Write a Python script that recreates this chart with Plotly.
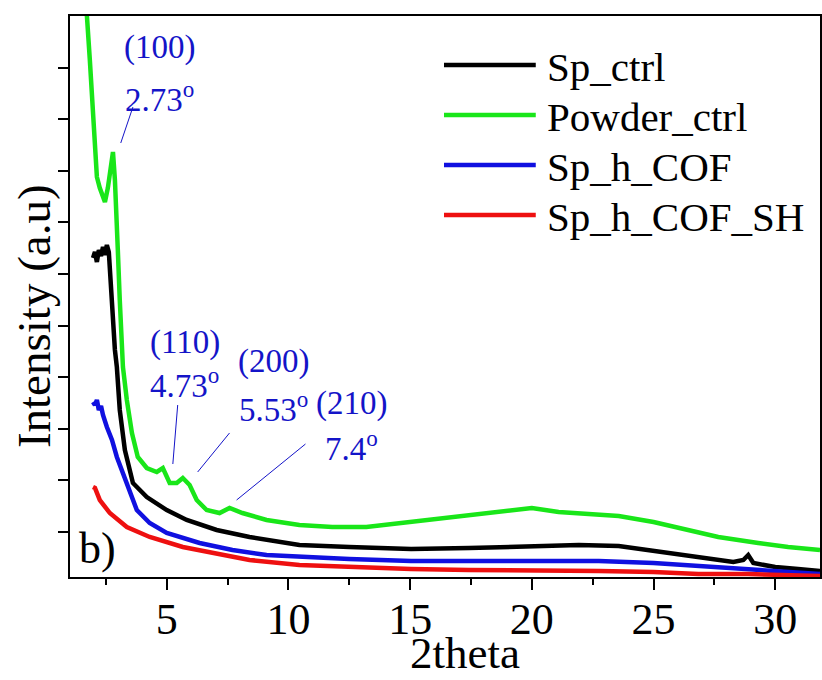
import plotly.graph_objects as go

# ---------------- data ----------------
x_sp_ctrl = [1.97, 2.05, 2.13, 2.21, 2.30, 2.38, 2.46, 2.54, 2.62, 2.66, 2.75, 2.79, 2.87, 2.95,
             3.07, 3.28, 3.61, 4.18, 5.0, 5.82, 7.05, 8.40, 9.75, 10.45, 12.5, 15.04, 17.42,
             20.0, 21.93, 23.57, 25.0, 26.84, 28.28, 28.69, 28.89, 29.1, 30.0, 30.94, 31.84]
y_sp_ctrl = [6310, 6426, 6233, 6465, 6349, 6523, 6368, 6562, 6426, 6078, 5496, 5167, 4527, 4198,
             3364, 2589, 1950, 1678, 1426, 1233, 1039, 903, 787, 748, 709, 671, 690,
             729, 748, 729, 632, 496, 419, 458, 554, 399, 322, 283, 244]

x_powder = [1.60, 1.72, 1.84, 1.93, 2.05, 2.13, 2.25, 2.38, 2.46, 2.58, 2.66, 2.79, 2.87, 2.95,
            2.99, 3.07, 3.20, 3.36, 3.57, 3.81, 4.18, 4.59, 4.84, 5.12, 5.41, 5.66, 5.94, 6.23,
            6.64, 7.17, 7.58, 8.11, 9.10, 10.45, 11.80, 13.20, 14.55, 16.60, 18.65, 20.0, 21.1,
            22.34, 23.57, 25.0, 26.43, 27.66, 29.3, 30.53, 31.84]
y_powder = [11601, 11000, 10147, 9372, 8403, 7880, 7667, 7473, 7395, 7667, 7957, 8364, 7822, 7143,
            6465, 5496, 4198, 3558, 2919, 2454, 2240, 2163, 2240, 1950, 1950, 2047, 1911, 1620,
            1426, 1368, 1465, 1368, 1233, 1136, 1097, 1097, 1174, 1271, 1388, 1465, 1388,
            1349, 1310, 1194, 1039, 903, 787, 709, 651]

x_sp_h_cof = [1.97, 2.05, 2.13, 2.21, 2.30, 2.38, 2.54, 2.75, 2.95, 3.16, 3.36, 3.77, 4.30, 5.0,
              6.35, 7.70, 9.10, 10.45, 12.5, 15.04, 17.42, 20.0, 22.75, 25.0, 26.84, 28.89, 30.0, 31.84]
y_sp_h_cof = [3519, 3461, 3558, 3364, 3442, 3267, 3035, 2783, 2454, 2202, 1950, 1426, 1174, 981,
              787, 651, 554, 516, 477, 438, 438, 458, 438, 399, 341, 283, 244, 186]

x_sp_h_cof_sh = [1.97, 2.05, 2.25, 2.66, 3.36, 4.30, 5.66, 7.05, 8.40, 10.45, 12.5, 15.04, 17.42,
                 20.0, 22.75, 25.0, 26.84, 28.89, 30.0, 31.84]
y_sp_h_cof_sh = [1872, 1853, 1620, 1368, 1097, 903, 709, 593, 458, 361, 322, 283, 264,
                 264, 244, 225, 186, 186, 167, 147]

series_names = ["Sp_ctrl", "Powder_ctrl", "Sp_h_COF", "Sp_h_COF_SH"]
series_colors = ["#000000", "#19e619", "#1010e0", "#ee1010"]

# peak labels
peak_hkl = ["(100)", "(110)", "(200)", "(210)"]
peak_angle = ["2.73", "4.73", "5.53", "7.4"]
peak_text_x = [4.70, 5.74, 9.40, 12.60]
peak_hkl_y = [10380, 4682, 4295, 3500]
peak_ang_y = [9430, 3888, 3423, 2667]
ptr_x0 = [3.61, 5.45, 7.58, 10.70]
ptr_y0 = [9236, 3461, 2919, 2705]
ptr_x1 = [3.11, 5.25, 6.27, 7.87]
ptr_y1 = [8539, 2318, 2163, 1620]

x_major_ticks = [5, 10, 15, 20, 25, 30]
y_ticks = [1000, 2000, 3000, 4000, 5000, 6000, 7000, 8000, 9000, 10000]
x_range = [1.025, 31.84]
y_range = [128, 11000]
top_tick_step = 3.115           # top axis: equal divisions starting at left edge
top_ticks = [x_range[0] + k * top_tick_step for k in range(1, 10)]

FONT = "Liberation Serif"
ANN_BLUE = "#1414c8"

# plot-area geometry in pixels (for placing legend / titles)
W, H = 822, 680
ML, MR, MT, MB = 70, 0, 16, 103
PW, PH = W - ML - MR, H - MT - MB


def px_x(p):
    return (p - ML) / PW


def px_y(p):
    return (H - MB - p) / PH


fig = go.Figure()
xs = [x_sp_ctrl, x_powder, x_sp_h_cof, x_sp_h_cof_sh]
ys = [y_sp_ctrl, y_powder, y_sp_h_cof, y_sp_h_cof_sh]
for i, (xv, yv) in enumerate(zip(xs, ys)):
    fig.add_trace(go.Scatter(x=xv, y=yv, mode="lines", name=series_names[i],
                             line=dict(color=series_colors[i], width=4.5),
                             showlegend=False))

for i in range(len(peak_hkl)):
    fig.add_annotation(x=peak_text_x[i], y=peak_hkl_y[i], text=peak_hkl[i], showarrow=False,
                       font=dict(family=FONT, size=33, color=ANN_BLUE), xref="x", yref="y")
    fig.add_annotation(x=peak_text_x[i], y=peak_ang_y[i], text=peak_angle[i] + "<sup>o</sup>",
                       showarrow=False, font=dict(family=FONT, size=33, color=ANN_BLUE),
                       xref="x", yref="y")
    fig.add_shape(type="line", x0=ptr_x0[i], y0=ptr_y0[i], x1=ptr_x1[i], y1=ptr_y1[i],
                  xref="x", yref="y", line=dict(color=ANN_BLUE, width=1))

fig.add_annotation(x=2.15, y=690, text="b)", showarrow=False, xref="x", yref="y",
                   font=dict(family=FONT, size=44, color="black"))

# legend (drawn as sample line + label for each series)
leg_rows = [65, 115, 165, 215]
for i, name in enumerate(series_names):
    fig.add_shape(type="line", xref="paper", yref="paper",
                  x0=px_x(445), x1=px_x(537), y0=px_y(leg_rows[i]), y1=px_y(leg_rows[i]),
                  line=dict(color=series_colors[i], width=4.5))
    fig.add_annotation(xref="paper", yref="paper", x=px_x(546), y=px_y(leg_rows[i] + 2),
                       text=name, showarrow=False, xanchor="left", yanchor="middle",
                       font=dict(family=FONT, size=41, color="black"))

# axis titles
fig.add_annotation(xref="paper", yref="paper", x=px_x(466), y=px_y(653), text="2theta",
                   showarrow=False, xanchor="center", yanchor="middle",
                   font=dict(family=FONT, size=45, color="black"))
fig.add_annotation(xref="paper", yref="paper", x=px_x(34), y=px_y(316), text="Intensity (a.u)",
                   showarrow=False, xanchor="center", yanchor="middle", textangle=-90,
                   font=dict(family=FONT, size=47, color="black"))

fig.update_layout(
    width=W, height=H,
    margin=dict(l=ML, r=MR, t=MT, b=MB),
    paper_bgcolor="white", plot_bgcolor="white",
    font=dict(family=FONT, color="black"),
    showlegend=False,
    xaxis=dict(range=x_range, showline=True, linewidth=2, linecolor="black", mirror=True,
               ticks="outside", ticklen=11, tickwidth=2, tickcolor="black",
               tickvals=x_major_ticks, showgrid=False, zeroline=False,
               ticklabelstandoff=-9,
               tickfont=dict(family=FONT, size=44, color="black"),
               minor=dict(ticks="outside", ticklen=6, tickwidth=2, tickcolor="black",
                          tick0=0, dtick=2.5, showgrid=False)),
    yaxis=dict(range=y_range, showline=True, linewidth=2, linecolor="black", mirror=True,
               ticks="outside", ticklen=10, tickwidth=2, tickcolor="black",
               tickvals=y_ticks, showticklabels=False, showgrid=False, zeroline=False),
    xaxis2=dict(overlaying="x", side="top", range=x_range, showline=False,
                ticks="inside", ticklen=9, tickwidth=2, tickcolor="black",
                tickvals=top_ticks, showticklabels=False, showgrid=False, zeroline=False),
    yaxis2=dict(overlaying="y", side="right", range=y_range, showline=False,
                ticks="inside", ticklen=16, tickwidth=2, tickcolor="black",
                tickvals=y_ticks, showticklabels=False, showgrid=False, zeroline=False),
)

fig.write_html("out.html")
